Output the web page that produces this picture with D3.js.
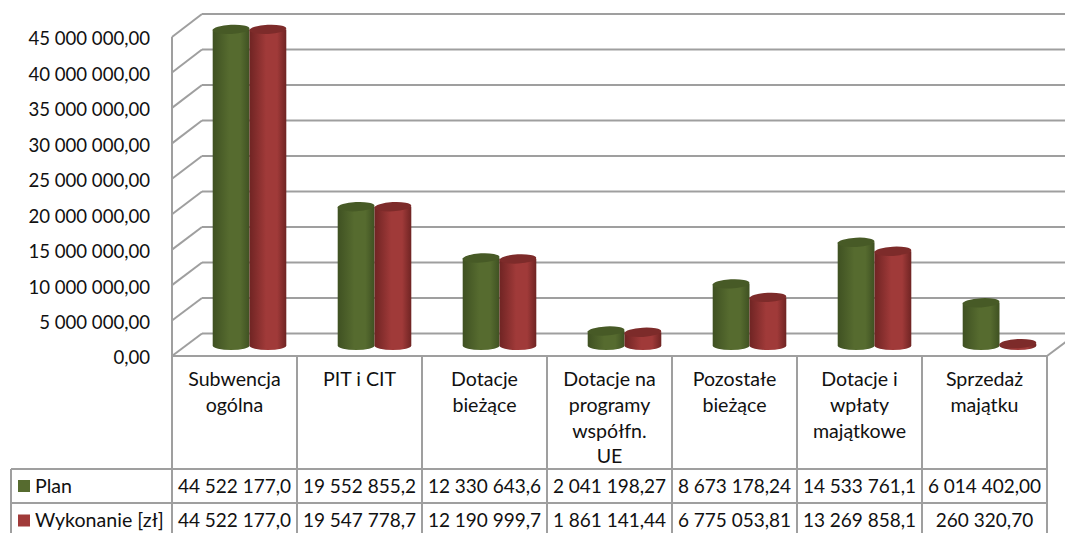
<!DOCTYPE html>
<html>
<head>
<meta charset="utf-8">
<script src="https://d3js.org/d3.v7.min.js"></script>
<title>Plan i wykonanie</title>
<style>
  body { margin: 0; background: #fff; }
  svg { display: block; }
  text { font-family: Lato, "Open Sans", sans-serif; fill: #111; }
</style>
</head>
<body>
<svg width="1065" height="533"></svg>
<script>
const categories = ["Subwencja ogólna", "PIT i CIT", "Dotacje bieżące", "Dotacje na programy współfn. UE", "Pozostałe bieżące", "Dotacje i wpłaty majątkowe", "Sprzedaż majątku"];
const categoryLines = [["Subwencja", "ogólna"], ["PIT i CIT"], ["Dotacje", "bieżące"], ["Dotacje na", "programy", "współfn.", "UE"], ["Pozostałe", "bieżące"], ["Dotacje i", "wpłaty", "majątkowe"], ["Sprzedaż", "majątku"]];
const seriesNames = ["Plan", "Wykonanie [zł]"];
const plan = [44522177.0, 19552855.2, 12330643.6, 2041198.27, 8673178.24, 14533761.1, 6014402.0];
const wykonanie = [44522177.0, 19547778.7, 12190999.7, 1861141.44, 6775053.81, 13269858.1, 260320.7];
const planLabels = ["44 522 177,0", "19 552 855,2", "12 330 643,6", "2 041 198,27", "8 673 178,24", "14 533 761,1", "6 014 402,00"];
const wykonanieLabels = ["44 522 177,0", "19 547 778,7", "12 190 999,7", "1 861 141,44", "6 775 053,81", "13 269 858,1", "260 320,70"];
const ticks = [0, 5e6, 10e6, 15e6, 20e6, 25e6, 30e6, 35e6, 40e6, 45e6];

const svg = d3.select("svg");
const grey = "#9f9f9f";
const axisFont = 18.6;
const valueFont = 19;
const labelFont = 19.6;
const locale = d3.formatLocale({ decimal: ",", thousands: " ", grouping: [3], currency: ["", ""] });

// front and back planes of the 3d box, bars stand halfway between
const yFront = d3.scaleLinear().domain([0, 45e6]).range([356, 37]);
const yBack = d3.scaleLinear().domain([0, 45e6]).range([333.5, 14]);
const yBar = d3.scaleLinear().domain([0, 45e6]).range([345.5, 26]);
const x = d3.scaleBand().domain(categories).range([172, 1047]);
const depth = 30;
const barOffset = 15;
const barW = 36.8;
const ry = 4.6;

const colors = [
  { edge: "#3f5122", mid: "#566b2f", top: "#475a26" },
  { edge: "#6f2423", mid: "#a03a39", top: "#7d2b2a" }
];

const defs = svg.append("defs");
colors.forEach(function(c, i) {
  const g = defs.append("linearGradient").attr("id", "cyl" + i);
  g.append("stop").attr("offset", "0%").attr("stop-color", c.edge);
  g.append("stop").attr("offset", "45%").attr("stop-color", c.mid);
  g.append("stop").attr("offset", "75%").attr("stop-color", c.mid);
  g.append("stop").attr("offset", "100%").attr("stop-color", c.edge);
});

// walls
const walls = svg.append("g").attr("fill", "none").attr("stroke", grey).attr("stroke-width", 2);
walls.selectAll("line.back").data(ticks).enter().append("line").attr("class", "back")
  .attr("x1", 172 + depth).attr("x2", 1065)
  .attr("y1", function(d) { return yBack(d); }).attr("y2", function(d) { return yBack(d); });
walls.selectAll("line.side").data(ticks).enter().append("line").attr("class", "side")
  .attr("x1", 172).attr("x2", 172 + depth)
  .attr("y1", function(d) { return yFront(d); }).attr("y2", function(d) { return yBack(d); });
walls.append("line").attr("x1", 172).attr("x2", 172).attr("y1", yFront(45e6)).attr("y2", yFront(0));
walls.append("line").attr("x1", 1047).attr("x2", 1047 + depth).attr("y1", yFront(0)).attr("y2", yBack(0));

// cylinders
function drawSeries(values, idx) {
  const g = svg.append("g");
  const bars = g.selectAll("g").data(values).enter().append("g")
    .attr("transform", function(d, i) {
      return "translate(" + (x(categories[i]) + x.bandwidth() / 2 + barOffset - barW + idx * barW) + ",0)";
    });
  bars.append("path")
    .attr("fill", "url(#cyl" + idx + ")")
    .attr("d", function(d) {
      const top = yBar(d), base = yBar(0), r = barW / 2;
      return "M0," + top + "V" + base + "A" + r + "," + ry + " 0 0 0 " + barW + "," + base + "V" + top + "Z";
    });
  bars.append("ellipse")
    .attr("fill", colors[idx].top)
    .attr("cx", barW / 2).attr("cy", function(d) { return yBar(d); })
    .attr("rx", barW / 2).attr("ry", ry)
    .attr("transform", function(d) { return "rotate(-3 " + barW / 2 + " " + yBar(d) + ")"; });
}
drawSeries(plan, 0);
drawSeries(wykonanie, 1);

// value axis
const axis = d3.axisLeft(yFront).tickValues(ticks).tickSize(0).tickPadding(0).tickFormat(locale.format(",.2f"));
const axisG = svg.append("g").attr("transform", "translate(150,2)").call(axis);
axisG.select(".domain").remove();
axisG.selectAll("text").style("font-family", "Lato").style("font-size", axisFont + "px").attr("fill", "#111");

// data table
const rowTop = 356, rowA = 469, rowB = 503, rowEnd = 533, tableLeft = 11;
const table = svg.append("g").attr("stroke", grey).attr("stroke-width", 2);
table.append("line").attr("x1", 172).attr("x2", 1047).attr("y1", rowTop).attr("y2", rowTop);
[rowA, rowB].forEach(function(y) {
  table.append("line").attr("x1", tableLeft).attr("x2", 1047).attr("y1", y).attr("y2", y);
});
table.append("line").attr("x1", tableLeft).attr("x2", tableLeft).attr("y1", rowA).attr("y2", rowEnd);
table.selectAll("line.col").data(categories).enter().append("line").attr("class", "col")
  .attr("x1", function(d) { return x(d); }).attr("x2", function(d) { return x(d); })
  .attr("y1", rowTop).attr("y2", rowEnd);
table.append("line").attr("x1", 1047).attr("x2", 1047).attr("y1", rowTop).attr("y2", rowEnd);

const cells = svg.append("g").attr("text-anchor", "middle");
categories.forEach(function(c, i) {
  const cx = x(c) + x.bandwidth() / 2;
  categoryLines[i].forEach(function(line, j) {
    cells.append("text").attr("x", cx).attr("y", 386 + j * 25.8).style("font-size", labelFont + "px").text(line);
  });
  cells.append("text").attr("x", cx).attr("y", 493).style("font-size", valueFont + "px").text(planLabels[i]);
  cells.append("text").attr("x", cx).attr("y", 527).style("font-size", valueFont + "px").text(wykonanieLabels[i]);
});

// legend keys
const legend = svg.append("g").style("font-size", labelFont + "px");
seriesNames.forEach(function(name, i) {
  const y = i === 0 ? 486 : 520.5;
  legend.append("rect").attr("x", 18).attr("y", y - 6).attr("width", 12).attr("height", 12).attr("fill", colors[i].mid);
  legend.append("text").attr("x", 35).attr("y", y + 6.5).text(name);
});
</script>
</body>
</html>
